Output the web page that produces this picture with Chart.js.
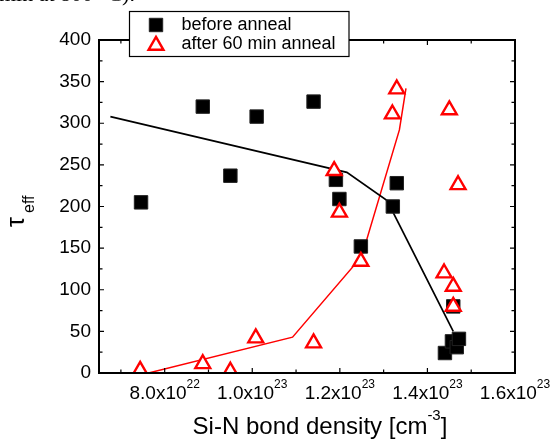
<!DOCTYPE html>
<html>
<head>
<meta charset="utf-8">
<script src="https://cdn.jsdelivr.net/npm/chart.js@4"></script>
<style>
  body { margin: 0; background: #fff; }
  #wrap { position: relative; width: 552px; height: 440px; overflow: hidden; }
  #cap { position: absolute; top: -17px; left: -1px; font: 22px "Liberation Serif", "Times New Roman", serif; line-height: 22px; white-space: nowrap; color: #000; }
  canvas { position: absolute; left: 0; top: 0; }
</style>
</head>
<body>
<div id="wrap">
  <canvas id="c" width="552" height="440"></canvas>
  <div id="cap">min at 800 °C).</div>
</div>
<script>
// x values are in units of 1e22 cm^-3
const beforeX = [7.46, 8.87, 9.50, 10.10, 11.40, 11.91, 11.99, 12.48, 13.21, 13.30, 14.40, 14.56, 14.67, 14.72, 14.59];
const beforeY = [205, 320, 237, 308, 326, 232, 209, 152, 200, 228, 24, 38, 31, 41, 80];
const afterX = [7.44, 8.87, 9.50, 10.08, 11.40, 11.87, 11.99, 12.48, 13.20, 13.30, 14.38, 14.50, 14.59, 14.59, 14.70];
const afterY = [3, 11, 2, 42, 36, 243, 193, 134, 311, 341, 120, 316, 104, 80, 226];
const blackLineX = [6.76, 12.16, 13.08, 14.59];
const blackLineY = [308, 241, 207, 50];
const redLineX = [7.63, 10.92, 12.50, 13.36, 13.51];
const redLineY = [0, 43, 140, 292, 342];

const xTicks = [8, 10, 12, 14, 16];
const xTickLabels = [['8.0x10', '22'], ['1.0x10', '23'], ['1.2x10', '23'], ['1.4x10', '23'], ['1.6x10', '23']];
const xMinorTicks = [7, 9, 11, 13, 15];
const yTicks = [0, 50, 100, 150, 200, 250, 300, 350, 400];
const yMinorTicks = [25, 75, 125, 175, 225, 275, 325, 375];
const seriesNames = ['before anneal', 'after 60 min anneal'];

const pts = (xs, ys) => xs.map((x, i) => ({ x, y: ys[i] }));
const FONT = '"Liberation Sans", Arial, sans-serif';

const overlay = {
  id: 'overlay',
  afterDraw(chart) {
    const ctx = chart.ctx;
    const a = chart.chartArea;
    const xs = chart.scales.x, ys = chart.scales.y;
    ctx.save();
    // frame
    ctx.strokeStyle = '#000';
    ctx.lineWidth = 2;
    ctx.strokeRect(a.left, a.top, a.right - a.left, a.bottom - a.top);
    // ticks, inward on all four sides
    ctx.lineWidth = 1.2;
    ctx.beginPath();
    const xt = (v, len) => {
      const p = xs.getPixelForValue(v);
      ctx.moveTo(p, a.bottom); ctx.lineTo(p, a.bottom - len);
      ctx.moveTo(p, a.top); ctx.lineTo(p, a.top + len);
    };
    const yt = (v, len) => {
      const p = ys.getPixelForValue(v);
      ctx.moveTo(a.left, p); ctx.lineTo(a.left + len, p);
      ctx.moveTo(a.right, p); ctx.lineTo(a.right - len, p);
    };
    xTicks.forEach(v => xt(v, 5));
    xMinorTicks.forEach(v => xt(v, 3.5));
    yTicks.forEach(v => yt(v, 5));
    yMinorTicks.forEach(v => yt(v, 3.5));
    ctx.stroke();

    ctx.fillStyle = '#000';
    // y tick labels
    ctx.font = '19px ' + FONT;
    ctx.textAlign = 'right';
    ctx.textBaseline = 'middle';
    yTicks.forEach(v => ctx.fillText(String(v), 91, ys.getPixelForValue(v)));

    // x tick labels with superscript exponent
    ctx.textBaseline = 'alphabetic';
    ctx.textAlign = 'left';
    xTicks.forEach((v, i) => {
      const [base, exp] = xTickLabels[i];
      ctx.font = '19px ' + FONT;
      const w1 = ctx.measureText(base).width;
      ctx.font = '12px ' + FONT;
      const w2 = ctx.measureText(exp).width;
      const x0 = xs.getPixelForValue(v) - (w1 + w2) / 2;
      ctx.font = '19px ' + FONT;
      ctx.fillText(base, x0, 399);
      ctx.font = '12px ' + FONT;
      ctx.fillText(exp, x0 + w1, 388);
    });

    // x title
    ctx.font = '24px ' + FONT;
    const t1 = 'Si-N bond density [cm', t3 = ']';
    const w1 = ctx.measureText(t1).width, w3 = ctx.measureText(t3).width;
    ctx.font = '15px ' + FONT;
    const t2 = '-3', w2 = ctx.measureText(t2).width;
    let tx = 320 - (w1 + w2 + w3) / 2;
    ctx.font = '24px ' + FONT;
    ctx.fillText(t1, tx, 434);
    ctx.font = '15px ' + FONT;
    ctx.fillText(t2, tx + w1, 420);
    ctx.font = '24px ' + FONT;
    ctx.fillText(t3, tx + w1 + w2, 434);

    // y title: tau_eff, rotated
    ctx.save();
    ctx.translate(23.5, 227);
    ctx.rotate(-Math.PI / 2);
    ctx.font = '25px ' + FONT;
    ctx.fillText('τ', 0, 0);
    ctx.font = '16px ' + FONT;
    ctx.fillText('eff', 14, 10.5);
    ctx.restore();

    // legend box
    ctx.fillStyle = '#fff';
    ctx.fillRect(129.5, 11.5, 219.5, 45);
    ctx.strokeStyle = '#000';
    ctx.lineWidth = 1.2;
    ctx.strokeRect(129.5, 11.5, 219.5, 45);
    const rows = [25, 44];
    [0, 1].forEach(i => {
      const ds = chart.data.datasets[i];
      ctx.fillStyle = ds.backgroundColor;
      ctx.strokeStyle = ds.borderColor;
      ctx.lineWidth = ds.borderWidth;
      Chart.helpers.drawPoint(ctx, { pointStyle: ds.pointStyle, radius: ds.pointRadius, rotation: 0, borderWidth: ds.borderWidth }, 156, rows[i] + (i === 1 ? 1.5 : 0));
      ctx.fillStyle = '#000';
      ctx.font = '18px ' + FONT;
      ctx.textBaseline = 'middle';
      ctx.fillText(seriesNames[i], 181.5, rows[i]);
    });
    ctx.restore();
  }
};

new Chart(document.getElementById('c'), {
  type: 'scatter',
  data: {
    datasets: [
      {
        label: seriesNames[0], data: pts(beforeX, beforeY), order: 2,
        pointStyle: 'rect', pointRadius: 9.5, pointHoverRadius: 9.5,
        backgroundColor: '#000', borderColor: '#222', borderWidth: 1, clip: 0
      },
      {
        label: seriesNames[1], data: pts(afterX, afterY), order: 1,
        pointStyle: 'triangle', pointRadius: 8.6, pointHoverRadius: 8.6,
        backgroundColor: '#fff', borderColor: '#ff0000', borderWidth: 2.4, clip: 0
      },
      {
        label: 'fit before', data: pts(blackLineX, blackLineY), order: 3,
        showLine: true, pointRadius: 0, borderColor: '#000', borderWidth: 1.7, fill: false
      },
      {
        label: 'fit after', data: pts(redLineX, redLineY), order: 3,
        showLine: true, pointRadius: 0, borderColor: '#ff0000', borderWidth: 1.5, fill: false
      }
    ]
  },
  options: {
    responsive: false,
    animation: false,
    events: [],
    layout: { padding: { left: 0, top: 40, right: 37, bottom: 0 } },
    plugins: { legend: { display: false }, tooltip: { enabled: false } },
    scales: {
      x: {
        type: 'linear', min: 6.5, max: 16,
        grid: { display: false }, border: { display: false },
        ticks: { display: false },
        afterFit: s => { s.height = 67; }
      },
      y: {
        min: 0, max: 400,
        grid: { display: false }, border: { display: false },
        ticks: { display: false },
        afterFit: s => { s.width = 99; }
      }
    }
  },
  plugins: [overlay]
});
</script>
</body>
</html>
